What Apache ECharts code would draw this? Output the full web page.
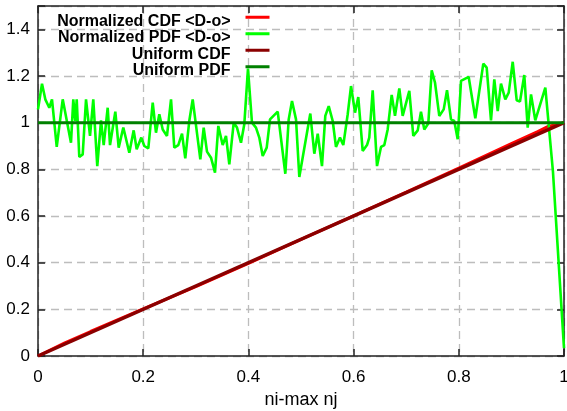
<!DOCTYPE html>
<html><head><meta charset="utf-8">
<script src="https://cdn.jsdelivr.net/npm/echarts@6/dist/echarts.min.js"></script>
<style>html,body{margin:0;padding:0;background:#fff}#c{width:567px;height:411px}</style>
</head><body><div id="c"></div>
<script>
const seriesNames = ['Normalized CDF <D-o>', 'Normalized PDF <D-o>', 'Uniform CDF', 'Uniform PDF'];
const seriesColors = ['#ff0000', '#00ff00', '#8b0000', '#008000'];
const xAxisName = 'ni-max nj';

const pdfX = [0, 0.0076, 0.0139, 0.0215, 0.0266, 0.0356, 0.047, 0.0627, 0.0671, 0.071, 0.0736, 0.0785, 0.085, 0.0913, 0.0989, 0.1051, 0.1127, 0.1198, 0.1249, 0.1325, 0.1369, 0.147, 0.1534, 0.1622, 0.1736, 0.1819, 0.1876, 0.1964,
  0.2021, 0.2097, 0.2181, 0.2243, 0.2306, 0.2371, 0.2452, 0.2529, 0.2591, 0.2667, 0.2738, 0.28, 0.2876, 0.2941, 0.3086, 0.315, 0.3213, 0.3289, 0.3365, 0.3428, 0.3511, 0.3574, 0.3637, 0.3721, 0.3783, 0.3859, 0.3922, 0.3992,
  0.4068, 0.4144, 0.4207, 0.4272, 0.4348, 0.4411, 0.4557, 0.4702, 0.4766, 0.4829, 0.4905, 0.4968, 0.5177, 0.5253, 0.5318, 0.5399, 0.5462, 0.5527, 0.5603, 0.5665, 0.5741, 0.5804, 0.5888, 0.5951,
  0.6027, 0.6089, 0.6173, 0.6255, 0.6298, 0.6363, 0.6445, 0.6521, 0.6584, 0.6648, 0.6724, 0.6787, 0.6869, 0.6933, 0.7059, 0.7135, 0.7219, 0.7281, 0.7344, 0.742, 0.7485, 0.7548, 0.7629, 0.7713, 0.7776, 0.7852, 0.7914, 0.7979,
  0.8042, 0.8188, 0.8314, 0.8466, 0.853, 0.8612, 0.8675, 0.874, 0.8802, 0.8884, 0.8949, 0.9025, 0.9101, 0.9163, 0.9245, 0.931, 0.9373, 0.9454, 0.9645, 0.979, 1.0];
const pdfY = [1.057, 1.167, 1.10, 1.064, 1.10, 0.896, 1.10, 0.914, 1.10, 1.007, 1.10, 0.853, 0.864, 1.10, 0.943, 1.10, 0.814, 1.01, 0.904, 1.064, 0.904, 1.047, 0.893, 0.979, 0.871, 0.967, 0.886, 0.936,
  0.90, 0.89, 1.086, 0.957, 1.036, 0.971, 0.943, 1.10, 0.893, 0.904, 0.953, 0.847, 1.007, 1.10, 0.843, 0.979, 0.876, 0.85, 0.786, 0.986, 0.904, 0.943, 0.821, 1.0, 0.979, 0.914, 0.993, 1.232,
  1.0, 0.979, 0.936, 0.857, 0.893, 1.014, 1.047, 0.781, 1.014, 1.093, 1.014, 0.767, 1.039, 0.867, 0.953, 0.814, 1.029, 1.071, 1.007, 0.896, 0.936, 0.904, 1.036, 1.157,
  1.043, 1.11, 0.879, 0.904, 0.936, 1.139, 0.814, 0.896, 0.904, 0.971, 1.119, 1.029, 1.147, 1.029, 1.136, 0.943, 0.967, 1.047, 0.971, 0.996, 1.224, 1.171, 1.029, 1.057, 1.139, 1.014, 1.007, 0.929,
  1.179, 1.196, 1.019, 1.253, 1.236, 1.01, 1.186, 1.05, 1.167, 1.10, 1.129, 1.261, 1.096, 1.09, 1.204, 0.979, 1.121, 1.01, 1.15, 0.79, 0.034];

const cdfX = [0, 0.05, 0.1, 0.2, 0.3, 0.4, 0.5, 0.6, 0.7, 0.8, 0.9, 0.95, 0.97, 1.0];
const cdfY = [0, 0.055, 0.105, 0.202, 0.297, 0.397, 0.5, 0.601, 0.702, 0.805, 0.91, 0.962, 0.984, 1.0];

const uniformX = [0, 1];
const uniformCdfY = [0, 1];
const uniformPdfY = [1, 1];

const legendLineY = [17.3, 33.8, 50.3, 66.8];

const zip = (xs, ys) => xs.map((x, i) => [x, ys[i]]);
const FONT = 'Liberation Sans, Arial, sans-serif';

const chart = echarts.init(document.getElementById('c'), null, {renderer: 'canvas'});

const axisLineStyle = {color: '#222', width: 1.5};
const gridLine = {show: true, lineStyle: {color: '#bdbdbd', width: 1.3, type: [8, 5]}};
// line sample sits at the top of an 11px-high icon box, so the label is centred 4px below it
const legendIcon = 'path://M0,0H24V3H0ZM0,10.99H0.01V11H0Z';

const option = {
  animation: false,
  backgroundColor: '#fff',
  grid: {left: 38, right: 3, top: 6, bottom: 55, containLabel: false, outerBoundsMode: 'none'},
  legend: seriesNames.map((n, i) => ({
    data: [n], right: 297.5, top: legendLineY[i] - 4, padding: 0, orient: 'horizontal',
    align: 'right', icon: legendIcon, itemWidth: 24, itemHeight: 11, itemGap: 0, selectedMode: false,
    itemStyle: {borderWidth: 0},
    textStyle: {fontSize: 16, fontWeight: 'bold', color: '#000', fontFamily: FONT, lineHeight: 16, padding: [0, 10, 0, 0]}
  })),
  xAxis: [
    {type: 'value', min: 0, max: 1, interval: 0.2, position: 'bottom',
     name: xAxisName, nameLocation: 'middle', nameGap: 33,
     nameTextStyle: {fontSize: 18, color: '#000', fontFamily: FONT},
     axisLine: {show: true, onZero: false, lineStyle: axisLineStyle},
     axisTick: {show: true, inside: true, length: 7, lineStyle: axisLineStyle},
     axisLabel: {color: '#000', fontSize: 17, fontFamily: FONT, margin: 13},
     splitLine: gridLine},
    {type: 'value', min: 0, max: 1, interval: 0.2, position: 'top',
     axisLine: {show: true, onZero: false, lineStyle: axisLineStyle},
     axisTick: {show: true, inside: true, length: 7, lineStyle: axisLineStyle},
     axisLabel: {show: false}, splitLine: {show: false}}
  ],
  yAxis: [
    {type: 'value', min: 0, max: 1.5, interval: 0.2, position: 'left',
     axisLine: {show: true, onZero: false, lineStyle: axisLineStyle},
     axisTick: {show: true, inside: true, length: 7, lineStyle: axisLineStyle},
     axisLabel: {color: '#000', fontSize: 17, fontFamily: FONT, margin: 8,
       formatter: v => (v > 1.45 ? '' : String(Math.round(v * 10) / 10))},
     splitLine: gridLine},
    {type: 'value', min: 0, max: 1.5, interval: 0.2, position: 'right',
     axisLine: {show: true, onZero: false, lineStyle: axisLineStyle},
     axisTick: {show: true, inside: true, length: 7, lineStyle: axisLineStyle},
     axisLabel: {show: false}, splitLine: {show: false}}
  ],
  series: [
    {name: seriesNames[0], type: 'line', data: zip(cdfX, cdfY), showSymbol: false, symbol: 'none',
     lineStyle: {color: seriesColors[0], width: 3}, itemStyle: {color: seriesColors[0]}},
    {name: seriesNames[1], type: 'line', data: zip(pdfX, pdfY), showSymbol: false, symbol: 'none',
     lineStyle: {color: seriesColors[1], width: 2.6}, itemStyle: {color: seriesColors[1]}},
    {name: seriesNames[2], type: 'line', data: zip(uniformX, uniformCdfY), showSymbol: false, symbol: 'none',
     lineStyle: {color: seriesColors[2], width: 3.5}, itemStyle: {color: seriesColors[2]}},
    {name: seriesNames[3], type: 'line', data: zip(uniformX, uniformPdfY), showSymbol: false, symbol: 'none',
     lineStyle: {color: seriesColors[3], width: 3}, itemStyle: {color: seriesColors[3]}}
  ]
};
chart.setOption(option);
</script>
</body></html>
